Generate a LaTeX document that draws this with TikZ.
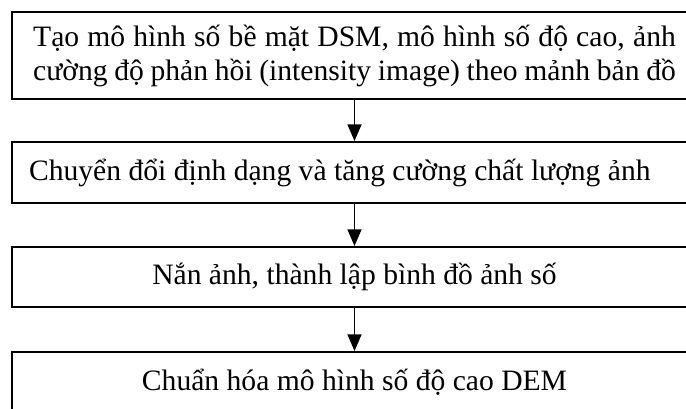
\documentclass[tikz,border=0pt]{standalone}
\usepackage{fontspec}
\setmainfont{Liberation Serif}
\usetikzlibrary{arrows.meta}

\begin{document}
\begin{tikzpicture}[x=0.75pt,y=-0.75pt,
  stage/.style={draw, line width=1.5pt, minimum width=513.75pt, inner sep=0pt,
    font=\fontsize{22.2}{25.5}\selectfont, align=center},
  flow/.style={line width=1.2pt, -{Triangle[width=10.5pt,length=12.5pt]}}]
\useasboundingbox (0,0) rectangle (686,408);
\clip (0,0) rectangle (686,408);
\node[stage, minimum height=65.25pt, text width=482pt, align=justify] (dsm) at (354.5,55.5) {\parfillskip=0pt Tạo mô hình số bề mặt DSM, mô hình số độ cao, ảnh\linebreak cường độ phản hồi (intensity image) theo mảnh bản đồ};
\node[stage, minimum height=45.75pt] (conv) at (354.5,172.5) {Chuyển đổi định dạng và tăng cường chất lượng ảnh\hspace{22pt}};
\node[stage, minimum height=45pt] (rect) at (354.5,277) {Nắn ảnh, thành lập bình đồ ảnh số};
\node[stage, minimum height=45pt] (dem) at (354.5,382) {Chuẩn hóa mô hình số độ cao DEM};
\draw[flow] (dsm) -- (conv);
\draw[flow] (conv) -- (rect);
\draw[flow] (rect) -- (dem);
\end{tikzpicture}
\end{document}
